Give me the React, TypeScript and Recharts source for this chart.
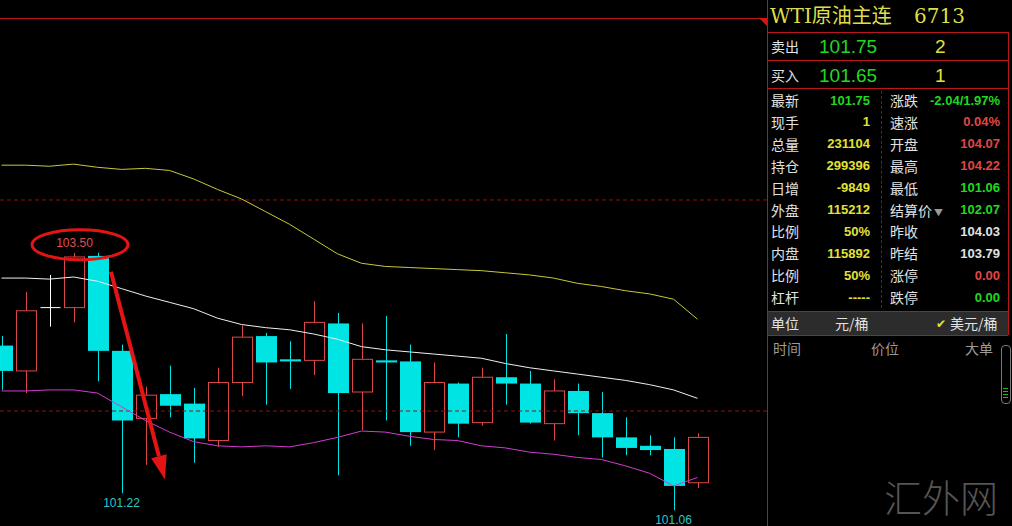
import React from 'react'
import { ComposedChart, Bar, Line, XAxis, YAxis, ReferenceLine, ReferenceDot } from 'recharts'

// candle index (one per bar, left to right)
const idx = [0, 1, 2, 3, 4, 5, 6, 7, 8, 9, 10, 11, 12, 13, 14, 15, 16, 17, 18, 19, 20, 21, 22, 23, 24, 25, 26, 27, 28, 29]

const openP = [102.62, 102.38, 102.98, 102.98, 103.47, 102.57, 101.93, 102.16, 102.07, 101.72, 102.27, 102.71, 102.49, 102.48, 102.83, 102.18, 102.48, 102.47, 101.8, 102.26, 101.89, 102.32, 102.26, 101.88, 102.19, 101.98, 101.75, 101.67, 101.64, 101.32]
const highP = [102.71, 103.13, 103.29, 103.5, 103.5, 102.63, 102.23, 102.43, 102.22, 102.41, 102.81, 102.74, 102.66, 103.04, 102.93, 102.83, 102.9, 102.63, 102.46, 102.27, 102.41, 102.73, 102.38, 102.3, 102.26, 102.18, 101.94, 101.77, 101.75, 101.79]
const lowP = [102.2, 102.17, 102.8, 102.84, 102.28, 101.22, 101.49, 101.94, 101.51, 101.66, 102.14, 102.06, 102.21, 102.34, 101.39, 101.82, 101.91, 101.67, 101.63, 101.75, 101.86, 102.06, 101.88, 101.72, 101.77, 101.56, 101.58, 101.58, 101.06, 101.27]
const closeP = [102.38, 102.95, 102.98, 103.46, 102.57, 101.91, 102.15, 102.05, 101.74, 102.27, 102.7, 102.46, 102.47, 102.84, 102.17, 102.49, 102.46, 101.8, 102.27, 101.88, 102.32, 102.26, 101.89, 102.19, 101.98, 101.75, 101.65, 101.63, 101.29, 101.75]

// band lines
const upperBand = [104.33, 104.33, 104.32, 104.34, 104.31, 104.29, 104.3, 104.28, 104.2, 104.1, 104.01, 103.89, 103.77, 103.63, 103.49, 103.4, 103.37, 103.36, 103.35, 103.34, 103.33, 103.31, 103.29, 103.26, 103.21, 103.18, 103.14, 103.11, 103.06, 102.87]
const midBand = [103.26, 103.26, 103.25, 103.27, 103.23, 103.16, 103.09, 103.03, 102.97, 102.88, 102.82, 102.79, 102.77, 102.73, 102.68, 102.61, 102.58, 102.56, 102.54, 102.52, 102.5, 102.45, 102.41, 102.38, 102.35, 102.32, 102.29, 102.25, 102.2, 102.12]
const lowerBand = [102.19, 102.19, 102.2, 102.2, 102.17, 102.04, 101.91, 101.8, 101.71, 101.67, 101.66, 101.67, 101.66, 101.7, 101.75, 101.81, 101.8, 101.76, 101.73, 101.72, 101.67, 101.65, 101.61, 101.59, 101.56, 101.54, 101.48, 101.41, 101.29, 101.37]

const gridPrices = [104.0, 102.0]
const lastPrice = 101.75

// quote panel texts
const leftLabels = ['最新', '现手', '总量', '持仓', '日增', '外盘', '比例', '内盘', '比例', '杠杆']
const leftValues = ['101.75', '1', '231104', '299396', '-9849', '115212', '50%', '115892', '50%', '-----']
const rightLabels = ['涨跌', '速涨', '开盘', '最高', '最低', '结算价', '昨收', '昨结', '涨停', '跌停']
const rightValues = ['-2.04/1.97%', '0.04%', '104.07', '104.22', '101.06', '102.07', '104.03', '103.79', '0.00', '0.00']

const GREEN = '#22d822'
const YELLOW = '#e2e236'
const RED = '#e04646'
const WHITE = '#e2e2e2'
const CYAN = '#00e4e4'
const CANDLE_RED = '#dc4848'
const BORDER = '#b8161a'

const leftColors = [GREEN, YELLOW, YELLOW, YELLOW, YELLOW, YELLOW, YELLOW, YELLOW, YELLOW, YELLOW]
const rightColors = [GREEN, RED, RED, RED, GREEN, GREEN, WHITE, WHITE, RED, GREEN]

const data = idx.map((i) => ({
  i,
  open: openP[i],
  high: highP[i],
  low: lowP[i],
  close: closeP[i],
  upper: upperBand[i],
  mid: midBand[i],
  lower: lowerBand[i],
}))

const Candle = (props: any) => {
  const { x, y, width, height, payload } = props
  const { open, high, low, close } = payload
  const top = Math.min(y, y + height)
  const h = Math.abs(height)
  const span = high - low || 1
  const py = (v: number) => top + ((high - v) / span) * h
  const cx = Math.round(x + width / 2) + 0.5
  const bTop = py(Math.max(open, close))
  const bBot = py(Math.min(open, close))
  const left = Math.round(x) + 0.5
  const w = Math.round(width) - 1

  if (close > open) {
    return (
      <g>
        <line x1={cx} x2={cx} y1={top} y2={bTop} stroke={CANDLE_RED} />
        <line x1={cx} x2={cx} y1={bBot} y2={top + h} stroke={CANDLE_RED} />
        <rect x={left} y={bTop} width={w} height={bBot - bTop} fill="none" stroke={CANDLE_RED} />
      </g>
    )
  }
  if (close === open) {
    return (
      <g>
        <line x1={cx} x2={cx} y1={top} y2={top + h} stroke="#ffffff" />
        <line x1={left} x2={left + w} y1={bTop} y2={bTop} stroke="#ffffff" />
      </g>
    )
  }
  return (
    <g>
      <line x1={cx} x2={cx} y1={top} y2={top + h} stroke={CYAN} />
      <rect x={left - 0.5} y={bTop} width={w + 1} height={Math.max(bBot - bTop, 2)} fill={CYAN} />
    </g>
  )
}

const HighMark = (props: any) => {
  const { cx, cy } = props
  return (
    <g>
      <text x={cx + 1} y={cy - 6} textAnchor="middle" fill="#e05050" fontSize={12} fontFamily="Arial, 'Liberation Sans'">
        103.50
      </text>
      <ellipse cx={cx + 6.5} cy={cy - 8} rx={48} ry={15} fill="none" stroke="#e41414" strokeWidth={3} />
    </g>
  )
}

const Arrow = (props: any) => {
  const { x1, y1, x2, y2 } = props
  const ang = Math.atan2(y2 - y1, x2 - x1)
  const headLen = 24
  const headW = 8
  const bx = x2 - headLen * Math.cos(ang)
  const by = y2 - headLen * Math.sin(ang)
  const nx = -Math.sin(ang)
  const ny = Math.cos(ang)
  return (
    <g>
      <line x1={x1} y1={y1} x2={bx} y2={by} stroke="#e41414" strokeWidth={4} />
      <polygon
        points={`${x2},${y2} ${bx + nx * headW},${by + ny * headW} ${bx - nx * headW},${by - ny * headW}`}
        fill="#e41414"
      />
    </g>
  )
}

const T = ({ x, y, w, align = 'left', color = WHITE, size = 14, weight = 400, family, children }: any) => (
  <div
    style={{
      position: 'absolute',
      left: x,
      top: y - size / 2 - 1,
      width: w,
      textAlign: align,
      color,
      fontSize: size,
      fontWeight: weight,
      lineHeight: `${size + 2}px`,
      whiteSpace: 'nowrap',
      fontFamily: family || '"Noto Sans CJK SC", sans-serif',
    }}
  >
    {children}
  </div>
)

const HLine = ({ x, y, w, color = BORDER }: any) => (
  <div style={{ position: 'absolute', left: x, top: y, width: w, height: 1, background: color }} />
)
const VLine = ({ x, y, h, color = BORDER }: any) => (
  <div style={{ position: 'absolute', left: x, top: y, width: 1, height: h, background: color }} />
)

const NUM = 'Arial, "Liberation Sans", sans-serif'

export default function App() {
  return (
    <div style={{ position: 'absolute', left: 0, top: 0, width: 1012, height: 526, background: '#000', overflow: 'hidden' }}>
      <ComposedChart width={768} height={526} data={data} margin={{ top: 18, right: 0, bottom: 0, left: 0 }}>
        <XAxis dataKey="i" type="number" domain={[-0.0625, 31.9375]} hide allowDataOverflow />
        <YAxis domain={[100.91, 105.725]} hide allowDataOverflow />
        {gridPrices.map((p) => (
          <ReferenceLine key={p} y={p} stroke="#8a1414" strokeDasharray="4 3" />
        ))}
        <ReferenceLine
          segment={[{ x: 31.1, y: lastPrice }, { x: 31.94, y: lastPrice }]}
          stroke="#e2e236"
        />
        <Line dataKey="upper" type="linear" stroke="#c8c83a" dot={false} isAnimationActive={false} />
        <Line dataKey="mid" type="linear" stroke="#f0f0f0" dot={false} isAnimationActive={false} />
        <Line dataKey="lower" type="linear" stroke="#d23cd2" dot={false} isAnimationActive={false} />
        <Bar dataKey={(d: any) => [d.low, d.high]} shape={<Candle />} barSize={21} isAnimationActive={false} />
        <ReferenceDot x={3} y={103.5} r={0} shape={<HighMark />} />
        <ReferenceDot x={5} y={101.22} r={0} fill="none" stroke="none"
          label={{ value: '101.22', position: 'bottom', fill: '#2cc8c8', fontSize: 12, fontFamily: NUM }} />
        <ReferenceDot x={28} y={101.06} r={0} fill="none" stroke="none"
          label={{ value: '101.06', position: 'bottom', fill: '#2cc8c8', fontSize: 12, fontFamily: NUM }} />
        <ReferenceLine segment={[{ x: 4.56, y: 103.32 }, { x: 6.81, y: 101.35 }]} shape={<Arrow />} />
      </ComposedChart>

      {/* chart frame */}
      <HLine x={0} y={18} w={767} />
      <svg style={{ position: 'absolute', left: 758, top: 18 }} width={10} height={10}>
        <polygon points="1,0 10,0 10,9" fill="#d01818" />
      </svg>

      {/* quote panel */}
      <VLine x={767} y={0} h={526} />
      <VLine x={1008} y={32} h={303} />
      <T x={770} y={16} size={20} color="#dede48" family='"DejaVu Serif", "Noto Sans CJK SC", serif'>
        WTI原油主连
      </T>
      <T x={914} y={16} size={20} color="#dede48" family='"DejaVu Serif", serif'>
        6713
      </T>
      <HLine x={768} y={32} w={240} />
      <T x={771} y={46} size={14}>卖出</T>
      <T x={819} y={46} size={19} color={GREEN} family={NUM}>101.75</T>
      <T x={935} y={46} size={19} color={YELLOW} family={NUM}>2</T>
      <HLine x={768} y={60} w={240} />
      <T x={771} y={75} size={14}>买入</T>
      <T x={819} y={75} size={19} color={GREEN} family={NUM}>101.65</T>
      <T x={935} y={75} size={19} color={YELLOW} family={NUM}>1</T>
      <HLine x={768} y={88} w={240} />

      <div style={{ position: 'absolute', left: 881, top: 91, width: 0, height: 217, borderLeft: '1px dashed #8a1414' }} />
      {leftLabels.map((l, k) => (
        <React.Fragment key={'r' + k}>
          <T x={771} y={100 + k * 21.9} size={14}>{l}</T>
          <T x={800} w={70} align="right" y={100 + k * 21.9} size={13} weight={700} color={leftColors[k]} family={NUM}>
            {leftValues[k]}
          </T>
          <T x={890} y={100 + k * 21.9} size={14}>
            {rightLabels[k]}
            {k === 5 ? <span style={{ color: '#9a9a9a', fontSize: 9, marginLeft: 2 }}>▼</span> : null}
          </T>
          <T x={930} w={70} align="right" y={100 + k * 21.9} size={13} weight={700} color={rightColors[k]} family={NUM}>
            {rightValues[k]}
          </T>
        </React.Fragment>
      ))}

      <HLine x={768} y={311} w={240} />
      <div style={{ position: 'absolute', left: 768, top: 312, width: 240, height: 23, background: '#2c2c2c' }} />
      <T x={771} y={323} size={14}>单位</T>
      <T x={835} y={323} size={14}>元/桶</T>
      <T x={936} y={323} size={12} color={YELLOW}>✔</T>
      <T x={950} y={323} size={14}>美元/桶</T>
      <HLine x={768} y={335} w={240} />

      <T x={773} y={348} size={14} color="#9a9a9a">时间</T>
      <T x={871} y={348} size={14} color="#9a9a9a">价位</T>
      <T x={965} y={348} size={14} color="#9a9a9a">大单</T>
      <div style={{ position: 'absolute', left: 1001, top: 345, width: 8, height: 57, border: '1px solid #7a7a7a', borderRadius: 4 }} />
      <div style={{ position: 'absolute', left: 1003, top: 388, width: 5, height: 11, background: 'repeating-linear-gradient(#28b028 0 1px, transparent 1px 3px)' }} />

      <T x={884} y={496} size={38} color="#555555" family='"Noto Sans CJK SC", serif' weight={300}>汇外网</T>
    </div>
  )
}
